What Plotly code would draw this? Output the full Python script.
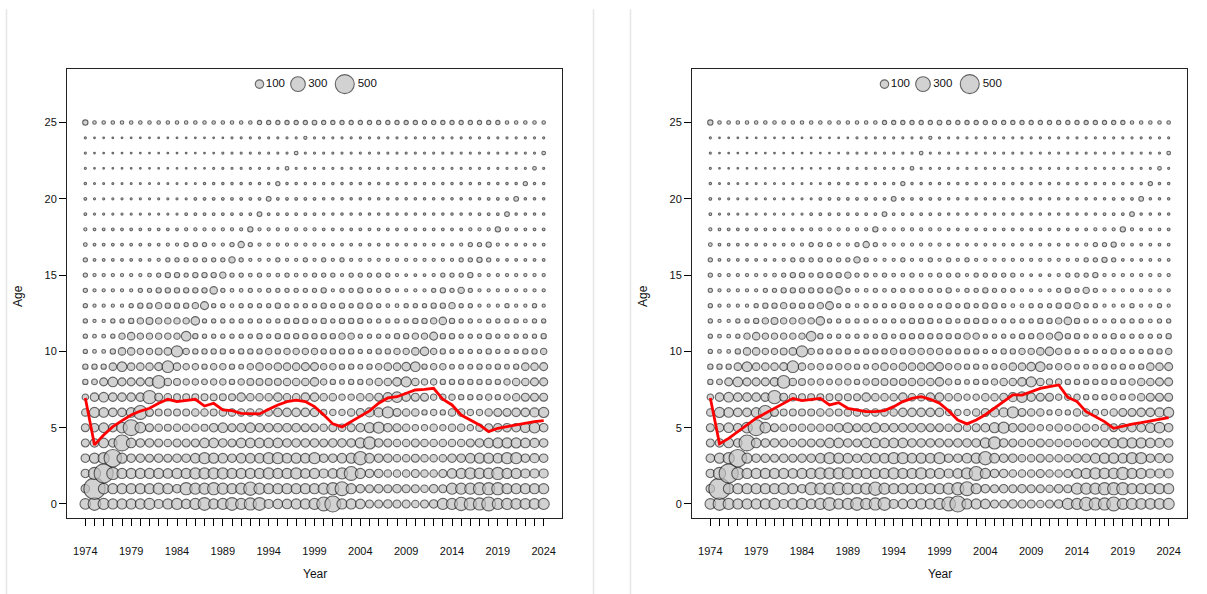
import math
import plotly.graph_objects as go

# ---------------- data ----------------
years = list(range(1974, 2025))
ages = list(range(0, 26))
tick_years = [1974, 1979, 1984, 1989, 1994, 1999, 2004, 2009, 2014, 2019, 2024]
age_ticks = [0, 5, 10, 15, 20, 25]
legend_vals = [100, 300, 500]

# numbers-at-age by year (1974..2024), one list per age
a00 = [156,225,172,141,141,141,141,172,113,141,172,127,172,225,141,172,225,172,207,225,113,127,127,141,141,172,
       264,352,141,141,127,88,88,100,88,88,77,88,100,172,172,244,207,207,264,172,172,156,156,156,172]
a01 = [100,625,156,141,141,141,141,141,172,141,100,207,172,172,207,172,141,172,244,172,141,141,141,141,141,141,
       172,207,264,141,100,88,100,88,100,88,88,77,100,88,172,172,172,207,207,207,141,141,141,141,141]
a02 = [100,207,506,207,141,141,141,141,141,127,141,141,172,172,172,172,141,141,141,141,172,141,141,172,127,141,
       113,127,172,264,141,100,100,77,77,77,88,77,77,88,127,141,172,156,156,207,141,141,113,113,113]
a03 = [100,141,172,425,141,100,100,88,100,88,100,100,127,172,141,127,100,127,127,127,172,172,127,141,127,172,
       100,100,127,141,244,127,100,100,77,77,88,77,77,77,100,100,127,141,141,127,172,172,100,113,100]
a04 = [88,100,127,100,352,127,100,100,88,77,88,88,88,127,127,100,88,127,127,127,127,127,100,100,100,100,
       88,100,100,100,141,207,100,88,77,77,88,77,77,77,77,77,88,100,127,141,141,141,127,113,100]
a05 = [88,100,127,100,156,352,156,88,77,66,77,77,77,66,100,127,88,100,127,100,100,100,100,100,88,88,
       77,88,77,88,100,141,172,100,88,77,56,56,77,56,77,77,56,77,88,100,100,100,127,156,100]
a06 = [77,141,127,100,100,127,264,88,66,66,66,66,77,77,66,77,77,77,77,77,77,100,100,100,100,100,
       56,56,56,77,88,113,113,172,88,77,77,39,56,39,77,77,56,56,77,88,88,100,100,113,141]
a07 = [56,100,127,100,100,100,100,244,88,77,66,66,66,66,66,66,66,100,77,77,77,100,77,77,100,100,
       77,77,56,56,77,77,88,113,156,100,88,88,56,56,56,39,39,39,56,39,56,77,88,88,88]
a08 = [39,47,88,127,88,88,88,100,225,77,66,56,56,47,56,56,39,56,66,66,66,66,77,77,77,100,
       56,39,32,39,39,56,77,77,100,141,77,56,56,39,39,39,39,39,39,39,56,77,77,88,88]
a09 = [39,39,39,77,127,77,77,77,88,189,77,56,56,39,56,56,39,32,56,77,56,77,77,77,88,88,
       56,56,39,39,32,39,56,77,77,100,127,39,56,56,32,32,32,39,32,39,32,39,77,77,88]
a10 = [25,19,19,39,77,77,56,56,66,77,172,56,39,39,39,39,25,39,39,39,56,39,56,56,56,56,
       39,39,39,39,25,25,39,39,56,56,77,100,56,39,25,25,25,25,39,25,25,25,39,39,56]
a11 = [25,19,19,25,56,77,56,56,56,56,56,127,39,25,25,25,25,25,25,39,25,39,39,39,39,39,
       39,39,56,56,25,25,25,25,39,39,56,56,88,39,39,25,25,25,39,25,25,25,25,25,39]
a12 = [25,14,14,25,25,39,56,66,56,56,56,56,100,25,25,25,25,25,25,25,25,25,39,39,39,25,
       39,25,39,39,39,25,25,25,25,25,39,39,56,77,39,25,25,19,25,25,25,25,19,25,25]
a13 = [25,14,14,14,14,25,39,39,56,39,39,39,56,88,25,25,19,25,25,25,25,39,25,25,25,25,
       39,25,39,25,39,39,25,19,19,25,25,25,39,39,56,25,25,14,14,14,25,14,14,25,14]
a14 = [25,14,14,14,14,14,25,25,39,39,39,39,39,39,77,25,19,19,25,19,25,25,25,25,25,25,
       39,14,25,25,39,25,25,25,14,14,14,14,25,39,25,56,25,14,14,14,14,14,14,14,14]
a15 = [25,14,14,14,14,14,14,19,25,39,39,25,39,39,39,56,25,25,19,25,19,19,25,19,19,25,
       25,25,14,25,25,25,25,25,14,10,10,10,14,25,25,25,39,14,14,14,14,14,14,14,14]
a16 = [25,10,10,10,10,10,10,10,14,25,25,25,25,25,25,25,56,25,14,14,14,25,14,14,25,14,
       25,14,25,14,14,14,14,14,14,14,14,14,14,14,14,25,25,39,25,10,10,10,10,10,10]
a17 = [19,10,10,10,10,10,10,10,10,14,14,25,25,25,14,14,25,56,25,14,14,14,14,14,14,14,
       10,10,10,10,10,10,10,10,10,10,10,10,10,10,10,14,25,25,39,14,10,10,10,10,10]
a18 = [14,10,10,10,10,10,10,10,10,10,10,14,14,14,14,14,14,14,39,14,14,14,14,14,14,14,
       10,10,10,10,10,10,10,10,10,10,10,10,10,10,10,10,14,14,14,39,14,10,10,10,10]
a19 = [10,6,6,6,6,6,6,6,6,6,6,10,10,10,10,10,10,10,10,32,10,10,10,10,10,10,
       8,8,8,8,8,8,8,8,8,8,8,8,8,8,8,8,8,10,10,10,32,8,8,8,8]
a20 = [10,6,6,6,6,6,6,6,6,6,6,6,10,10,10,10,10,10,10,10,32,10,10,10,10,10,
       8,8,8,8,8,8,8,8,8,8,8,8,8,8,8,8,8,8,10,10,10,32,8,8,8]
a21 = [8,5,5,5,5,5,5,5,5,5,5,5,5,8,8,8,8,8,8,8,8,25,8,8,8,8,
       8,8,8,8,8,8,8,8,8,8,8,8,8,8,8,8,8,8,8,8,8,8,25,8,8]
a22 = [6,4,4,4,4,4,4,4,4,4,4,4,4,4,6,6,6,6,6,6,6,6,19,6,6,6,
       6,6,6,6,6,6,6,6,6,6,6,6,6,6,6,6,6,6,6,6,6,6,6,19,6]
a23 = [6,4,4,4,4,4,4,4,4,4,4,4,4,4,4,6,6,6,6,6,6,6,6,19,6,6,
       6,6,6,6,6,6,6,6,6,6,6,6,6,6,6,6,6,6,6,6,6,6,6,6,19]
a24 = [6,4,4,4,4,4,4,4,4,4,4,4,4,4,4,4,6,6,6,6,6,6,6,6,14,6,
       6,6,6,6,6,6,6,6,6,6,6,6,6,6,6,6,6,6,6,6,6,6,6,6,6]
a25 = [39,17,17,17,17,17,17,17,17,17,17,17,17,17,17,17,17,17,17,25,25,25,25,25,25,30,
       25,25,25,25,25,25,25,25,25,25,25,25,25,25,25,25,25,25,25,25,17,17,17,17,17]

rows = [a00, a01, a02, a03, a04, a05, a06, a07, a08, a09, a10, a11, a12,
        a13, a14, a15, a16, a17, a18, a19, a20, a21, a22, a23, a24, a25]

# mean age by year (red lines), 1974..2024
mean_left = [6.95, 3.87, 4.52, 5.07, 5.46, 5.83, 6.09, 6.27, 6.6, 6.86, 6.71, 6.81, 6.86,
             6.42, 6.6, 6.16, 6.12, 5.94, 5.9, 5.9, 6.2, 6.49, 6.71, 6.81, 6.71, 6.38,
             5.85, 5.25, 5.05, 5.4, 5.7, 6.1, 6.6, 6.95, 7.03, 7.25, 7.47, 7.51,
             7.58, 6.86, 6.49, 5.83, 5.5, 5.18, 4.74, 4.96, 5.07, 5.18, 5.29, 5.39, 5.46]
mean_right = [6.95, 3.94, 4.3, 4.74, 5.18, 5.62, 5.94, 6.27, 6.6, 6.92, 6.77, 6.86, 6.92,
              6.49, 6.64, 6.27, 6.16, 6.05, 6.05, 6.12, 6.38, 6.71, 6.92, 7.03, 6.86, 6.6,
              6.1, 5.5, 5.25, 5.5, 5.85, 6.3, 6.75, 7.15, 7.14, 7.36, 7.58, 7.69,
              7.8, 6.99, 6.71, 6.05, 5.72, 5.4, 4.96, 5.11, 5.24, 5.33, 5.44, 5.55, 5.66]

# ---------------- styling / layout ----------------
W, H = 1207, 594
FONT = "Liberation Sans, Arial, sans-serif"
BUB_FILL = "#c0c0c0"
BUB_LINE = "#222222"
K = 0.85  # px diameter per sqrt(value)


def dsize(v):
    return K * math.sqrt(v)


top_px, bot_px = 69.3, 518.0
panels = [
    dict(ax="", left=67.0, right=562.0, mean=mean_left, xt=315, at=18),
    dict(ax="2", left=692.0, right=1187.0, mean=mean_right, xt=940, at=643),
]
xr = [1972.0, 2026.0]
yr = [-0.92, 28.49]

fig = go.Figure()

bx, by, bs = [], [], []
for a, row in zip(ages, rows):
    for yv, v in zip(years, row):
        bx.append(yv)
        by.append(a)
        bs.append(dsize(v))

leg_x = [1993.0, 1997.2, 2002.3]
leg_y = 27.52

for p in panels:
    xa = "x" + p["ax"]
    ya = "y" + p["ax"]
    fig.add_trace(go.Scatter(
        x=bx, y=by, mode="markers", xaxis=xa, yaxis=ya, showlegend=False,
        hoverinfo="skip",
        marker=dict(size=bs, sizemode="diameter", color=BUB_FILL,
                    line=dict(color=BUB_LINE, width=1.1))))
    fig.add_trace(go.Scatter(
        x=years, y=p["mean"], mode="lines", xaxis=xa, yaxis=ya, showlegend=False,
        line=dict(color="#ff0000", width=2.8)))
    fig.add_trace(go.Scatter(
        x=leg_x, y=[leg_y] * 3, mode="markers+text", xaxis=xa, yaxis=ya,
        showlegend=False, text=[str(v) for v in legend_vals],
        textposition="middle right",
        textfont=dict(family=FONT, size=11.5, color="#111"),
        marker=dict(size=[dsize(v) for v in legend_vals], sizemode="diameter",
                    color=BUB_FILL, line=dict(color=BUB_LINE, width=1.1))))

layout = dict(
    width=W, height=H, margin=dict(l=0, r=0, t=0, b=0),
    paper_bgcolor="white", plot_bgcolor="white",
    font=dict(family=FONT, size=11, color="#111"),
    showlegend=False,
)
x_ticktext = [str(y) if y in tick_years else "" for y in years]
for p in panels:
    layout["xaxis" + p["ax"]] = dict(
        domain=[p["left"] / W, p["right"] / W], range=xr,
        anchor="y" + p["ax"],
        tickmode="array", tickvals=years, ticktext=x_ticktext,
        ticks="outside", ticklen=7, tickwidth=1, tickcolor="#000000",
        ticklabelstandoff=16,
        showline=True, linecolor="#222", linewidth=1, mirror=True,
        showgrid=False, zeroline=False,
        tickfont=dict(family=FONT, size=11, color="#111"),
    )
    layout["yaxis" + p["ax"]] = dict(
        domain=[1 - bot_px / H, 1 - top_px / H], range=yr,
        anchor="x" + p["ax"],
        tickmode="array", tickvals=age_ticks,
        ticks="outside", ticklen=7, tickwidth=1,
        tickcolor="#000000",
        showline=True, linecolor="#222", linewidth=1, mirror=True,
        showgrid=False, zeroline=False,
        tickfont=dict(family=FONT, size=11, color="#111"),
    )
fig.update_layout(**layout)

ann = []
for p in panels:
    ann.append(dict(x=p["xt"] / W, y=1 - 574 / H, xref="paper", yref="paper",
                    xanchor="center", yanchor="middle",
                    text="Year", showarrow=False,
                    font=dict(family=FONT, size=12, color="#111")))
    ann.append(dict(x=p["at"] / W, y=1 - 296 / H, xref="paper", yref="paper",
                    xanchor="center", yanchor="middle",
                    text="Age", showarrow=False, textangle=-90,
                    font=dict(family=FONT, size=12, color="#111")))
fig.update_layout(annotations=ann)

shapes = []
for lx in [6.5, 593.5, 630.5]:
    shapes.append(dict(type="line", xref="paper", yref="paper",
                       x0=lx / W, x1=lx / W, y0=0, y1=1 - 9 / H,
                       line=dict(color="#e6e6e6", width=1.5)))
fig.update_layout(shapes=shapes)

fig.write_html("out.html")
